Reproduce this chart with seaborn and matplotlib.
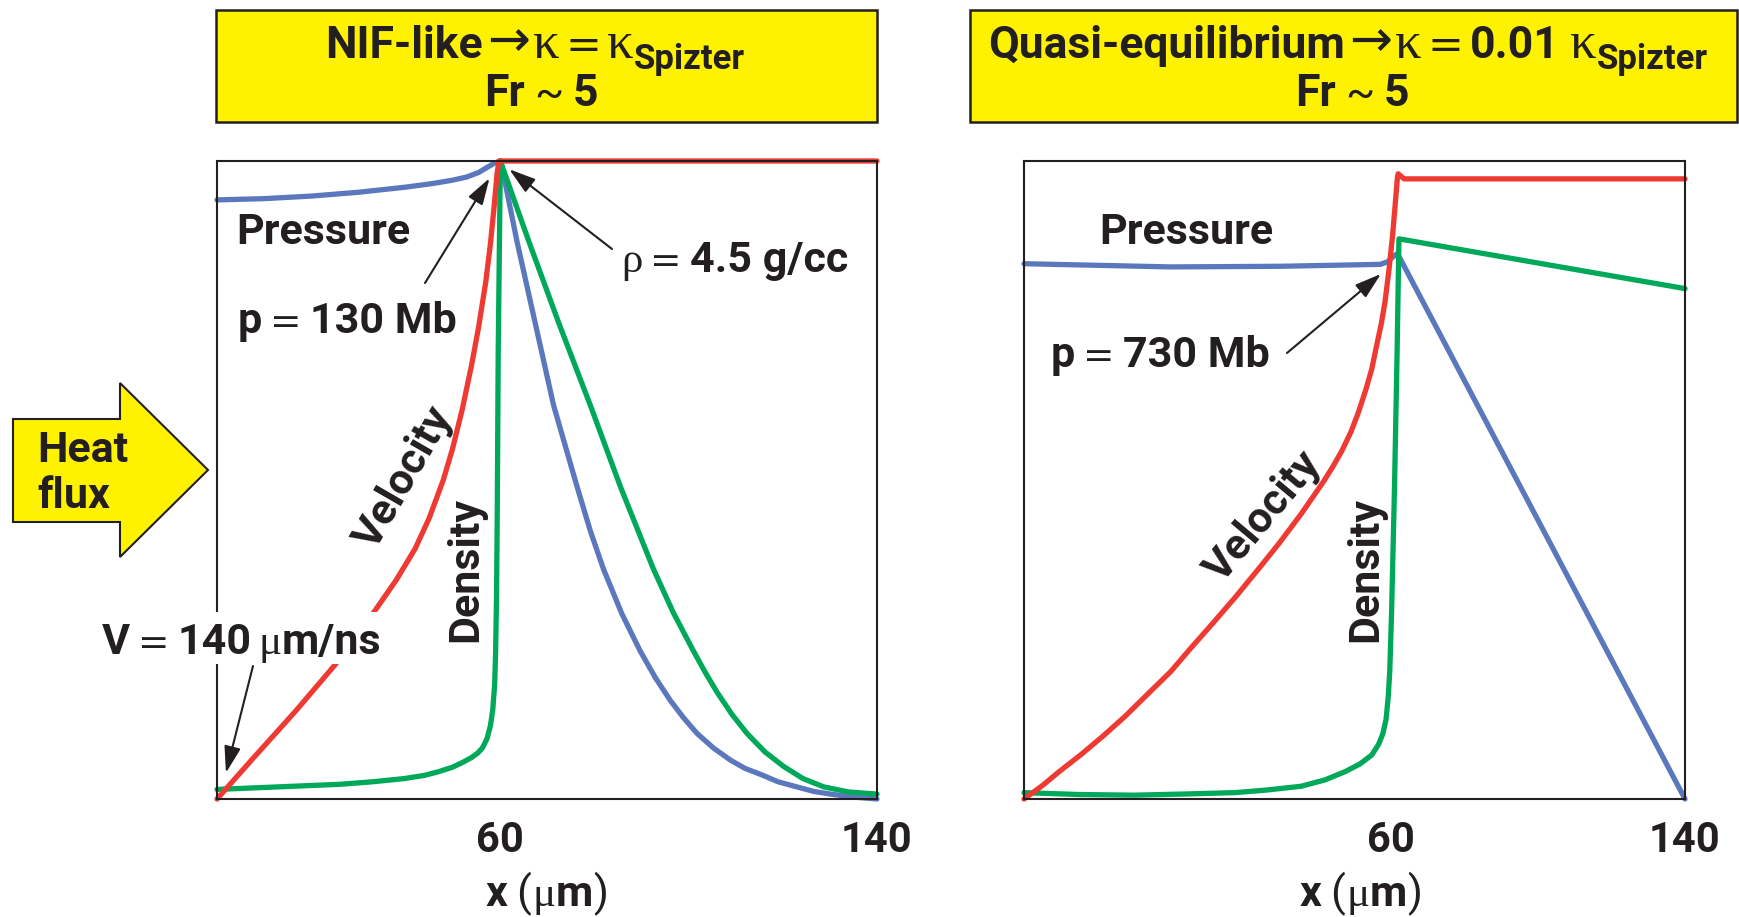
import matplotlib
matplotlib.use("Agg")
import matplotlib.pyplot as plt
from matplotlib.patches import Rectangle, Polygon
import seaborn as sns

W_PX, H_PX, DPI = 1739, 917, 100

INK = "#231f20"
RED = "#ee3a32"
BLUE = "#5b78be"
GREEN = "#00a85a"
YELLOW = "#fff200"

# ---------------- NIF-like case: kappa = kappa_Spitzer ----------------
# profiles normalised to the frame height (1 = top of the frame)
nif_vel_x = [0, 7.5, 16.7, 25.0, 33.3, 38.0, 42.0, 45.0, 48.0, 50.0, 52.0, 54.0, 55.5,
             57.0, 58.0, 58.8, 59.4, 59.8, 140]
nif_vel_y = [0, 0.0625, 0.138, 0.21, 0.293, 0.343, 0.392, 0.44, 0.50, 0.55, 0.61, 0.68, 0.74,
             0.81, 0.87, 0.93, 0.98, 1.0, 1.0]

nif_rho_x = [0, 13, 26, 33, 39.7, 44, 47.1, 50, 52, 54, 55.3, 56.3, 57.3, 58.0, 58.5, 58.9,
             59.1, 59.3, 59.45, 59.65, 60.1,
             66.1, 72.5, 79.2, 85.6, 92.6, 96.8, 101.1, 103.6, 106.1, 109.2, 112.4, 116.2,
             120.2, 124.3, 128.7, 134, 140]
nif_rho_y = [0.015, 0.019, 0.023, 0.027, 0.032, 0.037, 0.043, 0.05, 0.057, 0.065, 0.072, 0.08,
             0.095, 0.115, 0.14, 0.18, 0.23, 0.32, 0.45, 0.70, 1.0,
             0.875, 0.746, 0.617, 0.489, 0.36, 0.292, 0.2315, 0.198, 0.167, 0.133, 0.103, 0.074,
             0.051, 0.032, 0.019, 0.011, 0.0077]

nif_p_x = [0, 10, 20, 30, 40, 46, 50, 53, 55.5, 57.3, 58.7, 60.2,
           63.6, 67.5, 71.4, 76.4, 79.2, 82.0, 85.9, 89.8, 93.0, 96.2, 99.0, 101.8, 105.3,
           108.9, 112.0, 115.3, 119.0, 123.0, 126.5, 130.1, 135.0, 140]
nif_p_y = [0.939, 0.941, 0.945, 0.951, 0.959, 0.965, 0.97, 0.975, 0.982, 0.99, 0.996, 1.0,
           0.875, 0.746, 0.617, 0.489, 0.42, 0.36, 0.29, 0.2315, 0.19, 0.154, 0.127, 0.103, 0.08,
           0.061, 0.048, 0.0386, 0.027, 0.019, 0.012, 0.0077, 0.003, 0.0]

# ---------------- Quasi-equilibrium case: kappa = 0.01 kappa_Spitzer ----------------
qe_vel_x = [-40, -35, -30.4, -24.4, -18.4, -12.4, -6.4, 0, 5.5, 11.5, 17.5, 23.5, 29.5, 35.5,
            41.5, 44.0, 46.5, 49.0, 51.0, 53.0, 54.7, 56.0, 57.3, 58.3, 59.4, 60.4, 61.2, 61.7,
            61.9, 63.5, 140]
qe_vel_y = [0, 0.021, 0.043, 0.07, 0.099, 0.13, 0.164, 0.2, 0.237, 0.276, 0.316, 0.358, 0.401,
            0.447, 0.497, 0.52, 0.545, 0.575, 0.605, 0.64, 0.674, 0.71, 0.745, 0.779, 0.83, 0.885,
            0.94, 0.975, 0.98, 0.972, 0.972]

qe_rho_x = [-40, -25, -10, 5, 17.5, 26, 35.5, 42, 47.5, 51.5, 54.7, 56.5, 57.7, 58.6, 59.2,
            59.6, 60.1, 60.9, 61.6, 62.1, 140]
qe_rho_y = [0.01, 0.007, 0.006, 0.008, 0.01, 0.014, 0.02, 0.03, 0.043, 0.055, 0.069, 0.085,
            0.102, 0.125, 0.161, 0.2, 0.293, 0.49, 0.70, 0.878, 0.80]

qe_p_x = [-40, 0, 30, 57, 59, 60.5, 61.7, 140]
qe_p_y = [0.839, 0.834, 0.835, 0.838, 0.842, 0.85, 0.855, 0.0]

x_ticks = [60, 140]
x_tick_labels = ["60", "140"]

# ---------------------------------------------------------------------
sns.set_theme(style="white")
plt.rcParams["font.family"] = ["Roboto", "DejaVu Sans"]

fig = plt.figure(figsize=(W_PX / DPI, H_PX / DPI), dpi=DPI)
fig.patch.set_facecolor("white")


def fx(px):
    return px / W_PX


def fy(py):
    return 1 - py / H_PX


FS = 31
SANS = ["Roboto", "DejaVu Sans"]
BOLD = dict(family=SANS, weight="bold", size=FS, color=INK)
TBOLD = dict(family=SANS, weight="bold", size=32, color=INK)
SUB = dict(family=SANS, weight="bold", size=25, color=INK)
REG = dict(family=SANS, weight="normal", size=FS, color=INK)
EQ = dict(family=["DejaVu Sans"], weight="normal", size=27, color=INK)
TEQ = dict(family=["DejaVu Sans"], weight="normal", size=31, color=INK)
ARR = dict(family=["DejaVu Sans"], weight="normal", size=37, color=INK)
SYM = dict(family=["Liberation Serif", "DejaVu Serif"], weight="normal", size=FS, color=INK)
TSYM = dict(family=["Liberation Serif", "DejaVu Serif"], weight="normal", size=38, color=INK)


def rich(pieces, x, y, ha="left"):
    """Lay out mixed-style text pieces on one baseline (pixel coords, y from top)."""
    r = fig.canvas.get_renderer()
    arts = []
    total = 0.0
    for s, style, dy, gap in pieces:
        t = fig.text(0, 0, s, va="baseline", ha="left", zorder=5, **style)
        w = t.get_window_extent(r).width
        arts.append((t, dy, w, gap))
        total += w + gap
    total -= arts[-1][3]
    cx = x - total / 2 if ha == "center" else x
    for t, dy, w, gap in arts:
        t.set_position((fx(cx), fy(y + dy)))
        cx += w + gap


ax_l = fig.add_axes([fx(217), fy(799), (877 - 217) / W_PX, (799 - 161) / H_PX])
ax_r = fig.add_axes([fx(1024), fy(799), (1685 - 1024) / W_PX, (799 - 161) / H_PX])


def draw_profile(ax, x, y, color):
    sns.lineplot(x=x, y=y, ax=ax, color=color, linewidth=3.8, sort=False,
                 estimator=None, clip_on=False)


draw_profile(ax_l, nif_p_x, nif_p_y, BLUE)
draw_profile(ax_l, nif_rho_x, nif_rho_y, GREEN)
draw_profile(ax_l, nif_vel_x, nif_vel_y, RED)

draw_profile(ax_r, qe_p_x, qe_p_y, BLUE)
draw_profile(ax_r, qe_rho_x, qe_rho_y, GREEN)
draw_profile(ax_r, qe_vel_x, qe_vel_y, RED)

for ax, xlim in ((ax_l, (0, 140)), (ax_r, (-40, 140))):
    ax.set_xlim(*xlim)
    ax.set_ylim(0, 1)
    ax.set_yticks([])
    ax.set_xticks(x_ticks)
    ax.set_xticklabels(x_tick_labels)
    ax.tick_params(axis="x", length=0, pad=15, labelsize=30, labelcolor=INK)
    for lab in ax.get_xticklabels():
        lab.set_fontweight("bold")
    for s in ax.spines.values():
        s.set_visible(True)
        s.set_color(INK)
        s.set_linewidth(1.5)
    ax.set_xlabel("")
    ax.set_ylabel("")
    ax.grid(False)
    ax.set_facecolor("white")

# axis titles  x (μm)
for cx in (547, 1361):
    rich([("x", BOLD, 0, 9), ("(", REG, 0, 1), ("μ", SYM, 0, 0), ("m", BOLD, 0, 1), (")", REG, 0, 0)],
         cx, 906, ha="center")

# yellow title boxes
for x0, x1 in ((216, 877), (970, 1737)):
    fig.add_artist(Rectangle((fx(x0), fy(122)), (x1 - x0) / W_PX, (122 - 10) / H_PX,
                             transform=fig.transFigure, facecolor=YELLOW,
                             edgecolor=INK, linewidth=1.8))

rich([("NIF-like", TBOLD, 0, 4), ("→", ARR, -2, 3), ("κ", TSYM, 0, 6), ("=", TEQ, 0, 6),
      ("κ", TSYM, 0, 0), ("Spizter", SUB, 11, 0)], 535, 58, ha="center")
rich([("Fr", TBOLD, 0, 9), ("~", REG, 0, 9), ("5", TBOLD, 0, 0)], 541, 106, ha="center")

rich([("Quasi-equilibrium", TBOLD, 0, 4), ("→", ARR, -2, 3), ("κ", TSYM, 0, 6), ("=", TEQ, 0, 6),
      ("0.01", TBOLD, 0, 11), ("κ", TSYM, 0, 0), ("Spizter", SUB, 11, 0)], 1348, 58, ha="center")
rich([("Fr", TBOLD, 0, 9), ("~", REG, 0, 9), ("5", TBOLD, 0, 0)], 1352, 106, ha="center")

# heat flux arrow
arrow_pts = [(13, 419), (120, 419), (120, 383), (208, 470), (120, 557), (120, 522), (13, 522)]
fig.add_artist(Polygon([(fx(a), fy(b)) for a, b in arrow_pts], closed=True,
                       transform=fig.transFigure, facecolor=YELLOW, edgecolor=INK,
                       linewidth=1.5))
fig.text(fx(37), fy(462), "Heat", ha="left", va="baseline", **BOLD)
fig.text(fx(37), fy(508), "flux", ha="left", va="baseline", **BOLD)

# curve labels
fig.text(fx(236), fy(244), "Pressure", ha="left", va="baseline", **BOLD)
fig.text(fx(1099), fy(244), "Pressure", ha="left", va="baseline", **BOLD)
fig.text(fx(404), fy(478), "Velocity", rotation=60, ha="center", va="center",
         rotation_mode="anchor", **BOLD)
fig.text(fx(1264), fy(517), "Velocity", rotation=50, ha="center", va="center",
         rotation_mode="anchor", **BOLD)
fig.text(fx(466), fy(569), "Density", rotation=90, ha="center", va="center",
         rotation_mode="anchor", **BOLD)
fig.text(fx(1366), fy(569), "Density", rotation=90, ha="center", va="center",
         rotation_mode="anchor", **BOLD)

# value call-outs
rich([("p", BOLD, 0, 8), ("=", EQ, 0, 8), ("130 Mb", BOLD, 0, 0)], 238, 333)
rich([("ρ", SYM, 0, 8), ("=", EQ, 0, 8), ("4.5 g/cc", BOLD, 0, 0)], 621, 272)
# the inflow-velocity label sits on a white patch that hides the frame behind it
fig.add_artist(Rectangle((fx(98), fy(664)), (392 - 98) / W_PX, (664 - 612) / H_PX,
                         transform=fig.transFigure, facecolor="white",
                         edgecolor="none", zorder=4))
rich([("V", BOLD, 0, 8), ("=", EQ, 0, 8), ("140", BOLD, 0, 7), ("μ", SYM, 0, 0),
      ("m/ns", BOLD, 0, 0)], 102, 654)
rich([("p", BOLD, 0, 8), ("=", EQ, 0, 8), ("730 Mb", BOLD, 0, 0)], 1051, 367)

ARROW = dict(arrowstyle="-|>,head_length=0.9,head_width=0.28", mutation_scale=18,
             lw=1.5, color=INK, shrinkA=0, shrinkB=0)

i_p = nif_p_y.index(max(nif_p_y))
ax_l.annotate("", xy=(nif_p_x[i_p] - 2.4, nif_p_y[i_p] - 0.027), xycoords="data",
              xytext=(fx(425), fy(283)), textcoords="figure fraction", arrowprops=ARROW)
i_r = nif_rho_y.index(max(nif_rho_y))
ax_l.annotate("", xy=(nif_rho_x[i_r] + 1.9, nif_rho_y[i_r] - 0.013), xycoords="data",
              xytext=(fx(612), fy(249)), textcoords="figure fraction", arrowprops=ARROW)
ax_l.annotate("", xy=(nif_vel_x[0] + 1.9, nif_vel_y[0] + 0.041), xycoords="data",
              xytext=(fx(253), fy(666)), textcoords="figure fraction", arrowprops=ARROW)
j_p = qe_p_y.index(max(qe_p_y))
ax_r.annotate("", xy=(qe_p_x[j_p] - 4.5, qe_p_y[j_p] - 0.032), xycoords="data",
              xytext=(fx(1287), fy(353)), textcoords="figure fraction", arrowprops=ARROW)

fig.savefig("out.png", dpi=DPI, facecolor="white")
